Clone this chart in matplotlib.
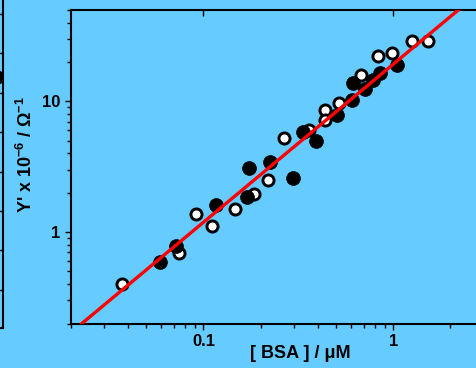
import numpy as np
import matplotlib
matplotlib.use("Agg")
import matplotlib.pyplot as plt
from matplotlib.ticker import LogLocator, NullFormatter, FixedLocator, FixedFormatter

# open circles
open_x = [0.0371, 0.0740, 0.0915, 0.1111, 0.1468, 0.1837, 0.2198, 0.2660, 0.3579,
          0.4370, 0.4386, 0.5191, 0.6787, 0.8326, 0.9820, 1.2512, 1.528]
open_y = [0.402, 0.694, 1.381, 1.108, 1.508, 1.947, 2.514, 5.274, 6.07,
          8.64, 7.18, 9.72, 15.93, 22.26, 23.39, 29.16, 28.80]

# filled circles
filled_x = [0.0592, 0.0718, 0.1166, 0.1698, 0.1746, 0.2244, 0.2977, 0.3347,
            0.3919, 0.5055, 0.6040, 0.6159, 0.7097, 0.7866, 0.8511, 1.042]
filled_y = [0.592, 0.779, 1.618, 1.864, 3.090, 3.454, 2.604, 5.86,
            4.94, 7.84, 10.25, 13.78, 12.40, 14.66, 16.59, 19.10]

# fitted line (end points)
fit_x = [0.0229, 2.2]
fit_y = [0.2, 50.0]

# neighbouring panel, only its right edge shows
side_ticks = [0, 1, 2, 3, 4, 5, 6, 7]
side_dot_x = [0.985]
side_dot_y = [5.4]

BG = "#66CCFF"
W, H = 477, 368

plt.rcParams["font.family"] = ["Liberation Sans", "DejaVu Sans"]
plt.rcParams["font.weight"] = "bold"
plt.rcParams["mathtext.fontset"] = "custom"
plt.rcParams["mathtext.default"] = "bf"
plt.rcParams["mathtext.bf"] = "Liberation Sans:bold"
plt.rcParams["mathtext.rm"] = "Liberation Sans:bold"


def px(x0, y0, x1, y1):
    # pixel box (top-left origin) -> figure fraction rect
    return [x0 / W, 1 - y1 / H, (x1 - x0) / W, (y1 - y0) / H]


def make_plot():
    fig = plt.figure(figsize=(W / 100, H / 100), dpi=100)
    fig.patch.set_facecolor(BG)

    # cut-off neighbour panel on the left
    side = fig.add_axes(px(-400, -20, 2.5, 328))
    side.set_facecolor(BG)
    side.set_xlim(0, 1)
    side.set_ylim(-0.97, 7.86)
    side.yaxis.tick_right()
    side.yaxis.set_major_locator(FixedLocator(side_ticks))
    side.tick_params(axis="y", direction="in", length=4, width=1, labelright=False)
    side.set_xticks([])
    for s in side.spines.values():
        s.set_linewidth(1.5)
    side.plot(side_dot_x, side_dot_y, "o", color="black", ms=10, zorder=1)

    ax = fig.add_axes(px(70.7, 10, 526, 323.5))
    ax.set_facecolor(BG)
    ax.set_xscale("log")
    ax.set_yscale("log")
    ax.set_xlim(0.02, 5)
    ax.set_ylim(0.2, 50)

    ax.plot(open_x, open_y, "o", ms=8, mfc="white", mec="black", mew=2.1, zorder=3)
    ax.plot(filled_x, filled_y, "o", ms=10, mfc="black", mec="black", mew=0.5, zorder=4)
    ax.plot(fit_x, fit_y, "-", color="red", lw=2.4, zorder=5)

    ax.xaxis.set_major_locator(FixedLocator([0.1, 1]))
    ax.xaxis.set_major_formatter(FixedFormatter(["0.1", "1"]))
    ax.xaxis.set_minor_locator(LogLocator(base=10, subs=np.arange(2, 10)))
    ax.xaxis.set_minor_formatter(NullFormatter())
    ax.yaxis.set_major_locator(FixedLocator([1, 10]))
    ax.yaxis.set_major_formatter(FixedFormatter(["1", "10"]))
    ax.yaxis.set_minor_locator(LogLocator(base=10, subs=np.arange(2, 10)))
    ax.yaxis.set_minor_formatter(NullFormatter())

    ax.tick_params(which="both", direction="out", width=1, labelsize=12, pad=3)
    ax.tick_params(which="major", length=4.5)
    ax.tick_params(which="minor", length=3)
    ax.tick_params(axis="x", top=True, labeltop=False)

    # top ticks point into the plot
    for t in ax.xaxis.get_major_ticks() + ax.xaxis.get_minor_ticks():
        t.tick2line.set_marker(3)

    for s in ax.spines.values():
        s.set_linewidth(1.5)

    fig.text(26 / W, 1 - 154.5 / H, "Y' x 10$^{-6}$ / \u03a9$^{-1}$", rotation=90,
             ha="center", va="center", fontsize=13, fontweight="bold")
    fig.text(300.5 / W, 1 - 354 / H, "[ BSA ] / \u03bcM", ha="center", va="center",
             fontsize=13, fontweight="bold")

    fig.savefig("out.png", dpi=100, facecolor=BG)


if __name__ == "__main__":
    make_plot()
